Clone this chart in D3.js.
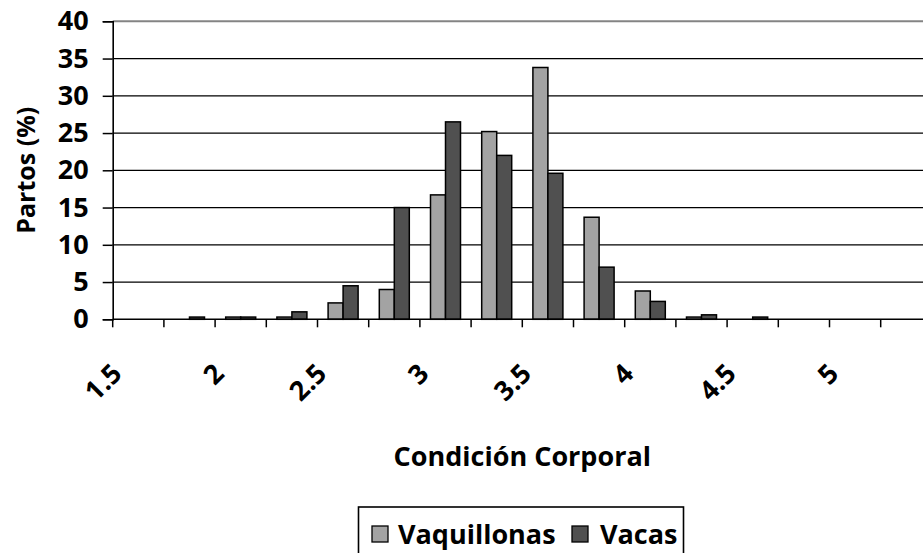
<!DOCTYPE html>
<html>
<head>
<meta charset="utf-8">
<script src="https://cdn.jsdelivr.net/npm/d3@7"></script>
<style>
  html, body { margin: 0; padding: 0; background: #fff; }
  svg { display: block; }
  text { font-family: "Open Sans", "Lato", sans-serif; font-weight: 700; fill: #000; }
</style>
</head>
<body>
<svg id="chart" width="923" height="553"></svg>
<script>
// Body condition score classes (every other class is labelled on the axis)
const categories = ["1.5", "1.75", "2", "2.25", "2.5", "2.75", "3", "3.25",
                    "3.5", "3.75", "4", "4.25", "4.5", "4.75", "5", "5.25"];
const axisLabels = ["1.5", "2", "2.5", "3", "3.5", "4", "4.5", "5"];

// Share of calvings (%) per body condition class
const vaquillonas = [0, 0, 0.3, 0.3, 2.2, 4.0, 16.7, 25.2, 33.8, 13.7, 3.8, 0.3, 0, 0, 0, 0];
const vacas       = [0, 0.3, 0.3, 1.0, 4.5, 15.0, 26.5, 22.0, 19.6, 7.0, 2.4, 0.6, 0.3, 0, 0, 0];

const seriesNames = ["Vaquillonas", "Vacas"];
const seriesColors = ["#a3a3a3", "#505050"];
const yTicks = [0, 5, 10, 15, 20, 25, 30, 35, 40];

const svg = d3.select("#chart");
const W = 923, H = 553;
const plot = { left: 112.7, right: 931.9, top: 21.3, bottom: 319.3 };
const FS = 27;

const x = d3.scaleBand().domain(categories).range([plot.left, plot.right]).padding(0);
const y = d3.scaleLinear().domain([0, 40]).range([plot.bottom, plot.top]);

// Horizontal gridlines
svg.append("g")
  .selectAll("line")
  .data(yTicks.filter(t => t > 0))
  .join("line")
  .attr("x1", plot.left).attr("x2", W)
  .attr("y1", d => y(d)).attr("y2", d => y(d))
  .attr("stroke", d => d === 40 ? "#848484" : "#000")
  .attr("stroke-width", d => d === 40 ? 2 : 1.3);

// Clustered bars
const barW = 15;
const series = [vaquillonas, vacas];
series.forEach((vals, si) => {
  svg.append("g")
    .selectAll("rect")
    .data(vals.map((v, i) => ({ cat: categories[i], v })))
    .join("rect")
    .attr("x", d => x(d.cat) + x.bandwidth() / 2 - barW + si * barW)
    .attr("y", d => y(d.v))
    .attr("width", barW)
    .attr("height", d => y(0) - y(d.v))
    .attr("fill", seriesColors[si])
    .attr("stroke", "#000")
    .attr("stroke-width", 1.5);
});

// Y axis
const yAxis = d3.axisLeft(y).tickValues(yTicks).tickSize(10).tickPadding(14);
const gy = svg.append("g").attr("transform", `translate(${plot.left},0)`).call(yAxis);
gy.select(".domain").attr("stroke", "#000").attr("stroke-width", 1.6);
gy.selectAll(".tick line").attr("stroke", "#000").attr("stroke-width", 1.5);
gy.selectAll(".tick text").attr("font-size", FS).attr("font-family", null).attr("fill", "#000");

// X axis: ticks on band boundaries, labels on every other band
const boundaries = d3.range(categories.length).map(i => x(categories[i]));
const gx = svg.append("g");
gx.append("line")
  .attr("x1", plot.left).attr("x2", W)
  .attr("y1", plot.bottom).attr("y2", plot.bottom)
  .attr("stroke", "#000").attr("stroke-width", 1.6);
gx.selectAll("line.tick")
  .data(boundaries)
  .join("line")
  .attr("class", "tick")
  .attr("x1", d => d).attr("x2", d => d)
  .attr("y1", plot.bottom).attr("y2", plot.bottom + 8)
  .attr("stroke", "#000").attr("stroke-width", 1.5);
gx.selectAll("text")
  .data(axisLabels)
  .join("text")
  .attr("text-anchor", "end")
  .attr("font-size", FS)
  .attr("transform", d => {
    const cx = x(d) + x.bandwidth() / 2 - 15;
    const cy = plot.bottom + 56;
    return `translate(${cx},${cy}) rotate(-45)`;
  })
  .text(d => d);

// Axis titles
svg.append("text")
  .attr("x", (plot.left + plot.right) / 2)
  .attr("y", 466)
  .attr("text-anchor", "middle")
  .attr("font-size", FS)
  .text("Condición Corporal");

svg.append("text")
  .attr("transform", `translate(35,${(plot.top + plot.bottom) / 2}) rotate(-90)`)
  .attr("text-anchor", "middle")
  .attr("font-size", 25)
  .text("Partos (%)");

// Legend
const legend = svg.append("g");
legend.append("rect")
  .attr("x", 358.5).attr("y", 507)
  .attr("width", 325).attr("height", 60)
  .attr("fill", "#fff").attr("stroke", "#000").attr("stroke-width", 1.6);
const legendItems = [
  { name: seriesNames[0], color: seriesColors[0], sx: 372, tx: 398 },
  { name: seriesNames[1], color: seriesColors[1], sx: 572, tx: 600 }
];
legendItems.forEach(it => {
  legend.append("rect")
    .attr("x", it.sx).attr("y", 526)
    .attr("width", 16).attr("height", 16)
    .attr("fill", it.color).attr("stroke", "#000").attr("stroke-width", 1.3);
  legend.append("text")
    .attr("x", it.tx).attr("y", 544)
    .attr("font-size", FS)
    .text(it.name);
});
</script>
</body>
</html>
